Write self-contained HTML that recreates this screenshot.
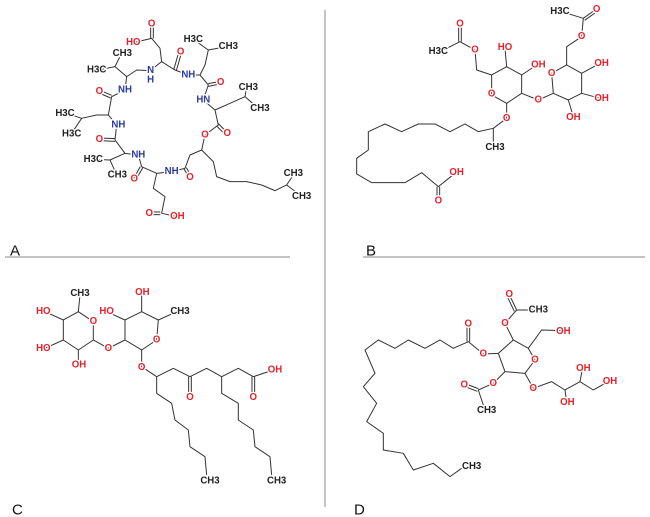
<!DOCTYPE html>
<html><head><meta charset="utf-8"><style>
html,body{margin:0;padding:0;background:#fff;}
svg{display:block}
.b{fill:none;stroke:#333;stroke-width:3;stroke-linejoin:round}
text{font-family:"Liberation Sans",Arial,sans-serif;font-size:29px;font-weight:bold;text-anchor:middle;dominant-baseline:central;paint-order:stroke;stroke:#fff;stroke-width:8px;stroke-linejoin:round}
.r{fill:#e8202a}.n{fill:#2a3aa0}.k{fill:#222}
.lbl{font-size:15px;font-weight:normal;stroke:none;fill:#111;text-anchor:start}
</style></head><body>
<svg width="650" height="517" viewBox="0 0 650 517" xmlns="http://www.w3.org/2000/svg">
<line x1="325" y1="10" x2="325" y2="507" stroke="#888" stroke-width="1"/>
<line x1="5" y1="257" x2="290" y2="257" stroke="#888" stroke-width="1"/>
<line x1="363" y1="257" x2="645" y2="257" stroke="#888" stroke-width="1"/>
<text class="lbl" x="10" y="251" dominant-baseline="auto">A</text>
<text class="lbl" x="366" y="251" dominant-baseline="auto">B</text>
<text class="lbl" x="12" y="510" dominant-baseline="auto">C</text>
<text class="lbl" x="354" y="510" dominant-baseline="auto">D</text>

<!-- Panel A -->
<g transform="scale(0.3333)">
<polyline class="b" points="450,212 485,185 525,210 565,225 600,225 625,255 610,300 645,330 655,375 615,405 605,450 570,465 555,505 515,515 470,520 425,500 415,465 375,460 345,420 350,375 325,345 335,290 375,270 380,230 410,210 450,212"/>
<polyline class="b" points="485,185 480,145 455,115 400,128"/>
<line class="b" x1="452" y1="115" x2="452" y2="75"/><line class="b" x1="460" y1="115" x2="460" y2="75"/>
<line class="b" x1="521" y1="210" x2="536" y2="158"/><line class="b" x1="529" y1="212" x2="544" y2="160"/>
<polyline class="b" points="600,225 615,195 625,150 580,118"/><line class="b" x1="625" y1="150" x2="680" y2="140"/>
<line class="b" x1="625" y1="251" x2="660" y2="244"/><line class="b" x1="625" y1="259" x2="660" y2="252"/>
<polyline class="b" points="645,330 690,310 735,290 740,262"/><line class="b" x1="735" y1="290" x2="775" y2="325"/>
<line class="b" x1="655" y1="371" x2="680" y2="396"/><line class="b" x1="651" y1="379" x2="676" y2="404"/>
<polyline class="b" points="605,450 640,485 650,530 690,545 740,545 785,555 825,572 860,555 880,525"/><line class="b" x1="860" y1="555" x2="900" y2="585"/>
<line class="b" x1="551" y1="505" x2="566" y2="530"/><line class="b" x1="559" y1="503" x2="574" y2="528"/>
<polyline class="b" points="470,520 460,565 495,590 485,640 530,650"/>
<line class="b" x1="481" y1="636" x2="450" y2="636"/><line class="b" x1="481" y1="644" x2="450" y2="644"/>
<line class="b" x1="421" y1="500" x2="401" y2="535"/><line class="b" x1="429" y1="502" x2="409" y2="537"/>
<polyline class="b" points="375,460 330,480 285,478"/><line class="b" x1="330" y1="480" x2="350" y2="525"/>
<line class="b" x1="345" y1="416" x2="300" y2="414"/><line class="b" x1="345" y1="424" x2="300" y2="422"/>
<polyline class="b" points="325,345 290,345 245,355 200,340"/><line class="b" x1="245" y1="355" x2="215" y2="400"/>
<line class="b" x1="335" y1="286" x2="300" y2="271"/><line class="b" x1="332" y1="294" x2="297" y2="279"/>
<polyline class="b" points="380,230 345,200 365,160"/><line class="b" x1="345" y1="200" x2="295" y2="210"/>
<text class="n" x="452" y="212">N</text><text class="n" x="452" y="240">H</text>
<text class="r" x="455" y="72">O</text><text class="r" x="400" y="128">HO</text>
<text class="r" x="542" y="156">O</text><text class="n" x="565" y="225">NH</text>
<text class="k" x="580" y="118">H3C</text>
<text class="k" x="685" y="140">CH3</text>
<text class="r" x="662" y="248">O</text><text class="n" x="610" y="300">HN</text>
<text class="k" x="745" y="262">CH3</text>
<text class="k" x="780" y="325">CH3</text>
<text class="r" x="682" y="400">O</text><text class="r" x="615" y="405">O</text>
<text class="r" x="570" y="532">O</text><text class="n" x="515" y="515">NH</text>
<text class="k" x="880" y="520">CH3</text>
<text class="k" x="905" y="590">CH3</text>
<text class="r" x="448" y="640">O</text><text class="r" x="532" y="650">OH</text>
<text class="r" x="403" y="537">O</text><text class="n" x="415" y="465">NH</text>
<text class="k" x="280" y="478">H3C</text>
<text class="k" x="352" y="525">CH3</text>
<text class="r" x="298" y="418">O</text><text class="n" x="355" y="375">NH</text>
<text class="k" x="195" y="340">H3C</text>
<text class="k" x="215" y="402">H3C</text>
<text class="r" x="298" y="275">O</text><text class="n" x="375" y="270">NH</text>
<text class="k" x="367" y="160">CH3</text>
<text class="k" x="290" y="210">H3C</text>
</g>

<!-- Panel B -->
<g transform="translate(325,0) scale(0.3333)">
<polyline class="b" points="390,520 340,560 290,518 240,548 190,548 140,548 95,522 95,475 130,450 130,395 180,372 230,395 280,372 330,372 375,395 420,372 460,395 505,385 545,355 545,310"/>
<line class="b" x1="505" y1="385" x2="505" y2="440"/>
<line class="b" x1="336" y1="560" x2="336" y2="600"/><line class="b" x1="344" y1="560" x2="344" y2="600"/>
<polyline class="b" points="545,310 500,285 500,225 545,200 590,225 590,280 545,310"/>
<polyline class="b" points="590,280 640,300 685,280 680,220 725,195 770,220 770,280 730,300 685,280"/>
<line class="b" x1="545" y1="200" x2="540" y2="145"/><line class="b" x1="590" y1="225" x2="635" y2="195"/>
<polyline class="b" points="500,225 455,210 450,150 405,125 345,155"/>
<line class="b" x1="401" y1="125" x2="401" y2="75"/><line class="b" x1="409" y1="125" x2="409" y2="75"/>
<line class="b" x1="730" y1="300" x2="745" y2="350"/><line class="b" x1="770" y1="280" x2="825" y2="295"/><line class="b" x1="770" y1="220" x2="825" y2="190"/>
<polyline class="b" points="725,195 725,140 770,110 775,55 710,35"/>
<line class="b" x1="775" y1="55" x2="810" y2="30"/><line class="b" x1="779" y1="61" x2="814" y2="36"/>
<text class="r" x="395" y="518">OH</text><text class="r" x="340" y="603">O</text>
<text class="k" x="510" y="442">CH3</text>
<text class="r" x="545" y="355">O</text><text class="r" x="500" y="282">O</text>
<text class="r" x="540" y="143">HO</text><text class="r" x="640" y="195">OH</text>
<text class="r" x="640" y="300">O</text><text class="r" x="680" y="220">O</text>
<text class="r" x="745" y="352">OH</text><text class="r" x="830" y="295">OH</text><text class="r" x="830" y="190">OH</text>
<text class="r" x="450" y="150">O</text><text class="r" x="405" y="72">O</text>
<text class="k" x="340" y="155">H3C</text>
<text class="r" x="770" y="110">O</text><text class="r" x="815" y="28">O</text>
<text class="k" x="705" y="35">H3C</text>
</g>

<!-- Panel C -->
<g transform="translate(0,260) scale(0.3333)">
<polyline class="b" points="280,240 280,185 235,155 190,180 190,240 235,270 280,240 325,265 375,240 375,180 425,155 475,180 470,240 425,270 375,240"/>
<line class="b" x1="235" y1="155" x2="240" y2="105"/><line class="b" x1="190" y1="180" x2="135" y2="155"/>
<line class="b" x1="190" y1="240" x2="135" y2="265"/><line class="b" x1="235" y1="270" x2="235" y2="312"/>
<line class="b" x1="375" y1="180" x2="320" y2="155"/><line class="b" x1="425" y1="155" x2="425" y2="100"/>
<line class="b" x1="475" y1="180" x2="530" y2="155"/>
<polyline class="b" points="425,270 425,320 470,350 520,325 570,350 620,325 665,350 715,325 760,350 820,330"/>
<line class="b" x1="566" y1="350" x2="566" y2="410"/><line class="b" x1="574" y1="350" x2="574" y2="410"/>
<line class="b" x1="756" y1="350" x2="756" y2="410"/><line class="b" x1="764" y1="350" x2="764" y2="410"/>
<polyline class="b" points="470,350 470,400 515,430 525,480 565,510 570,560 615,590 620,645"/>
<polyline class="b" points="665,350 665,400 715,430 715,480 760,510 765,560 810,590 815,645"/>
<text class="r" x="280" y="185">O</text><text class="r" x="470" y="240">O</text>
<text class="k" x="240" y="100">CH3</text><text class="r" x="130" y="155">HO</text><text class="r" x="130" y="265">HO</text>
<text class="r" x="237" y="315">OH</text><text class="r" x="320" y="155">HO</text><text class="r" x="427" y="97">OH</text>
<text class="k" x="540" y="155">CH3</text>
<text class="r" x="325" y="265">O</text><text class="r" x="425" y="322">O</text>
<text class="r" x="570" y="412">O</text><text class="r" x="760" y="412">O</text><text class="r" x="825" y="330">OH</text>
<text class="k" x="630" y="663">CH3</text><text class="k" x="830" y="663">CH3</text>
</g>

<!-- Panel D -->
<g transform="translate(325,260) scale(0.3333)">
<polyline class="b" points="520,280 565,240 610,265 630,300 600,340 540,335 520,280"/>
<polyline class="b" points="610,265 650,210 710,212"/>
<polyline class="b" points="600,340 625,385 680,365 720,390 765,365 805,390 850,365"/>
<line class="b" x1="720" y1="390" x2="725" y2="425"/><line class="b" x1="765" y1="365" x2="772" y2="328"/>
<polyline class="b" points="540,335 505,370 460,390 480,450"/>
<line class="b" x1="460" y1="386" x2="420" y2="371"/><line class="b" x1="457" y1="394" x2="417" y2="379"/>
<polyline class="b" points="520,280 475,282 430,245 385,265 345,240 300,265 250,240 210,265 160,240 120,270 150,340 115,380 155,430 125,485 175,520 175,570 235,580 265,630 325,610 375,650 410,625"/>
<line class="b" x1="426" y1="245" x2="426" y2="195"/><line class="b" x1="434" y1="245" x2="434" y2="195"/>
<polyline class="b" points="565,240 540,190 575,150 635,150"/>
<line class="b" x1="575" y1="150" x2="555" y2="108"/><line class="b" x1="568" y1="154" x2="548" y2="112"/>
<text class="r" x="630" y="300">O</text><text class="r" x="715" y="215">OH</text>
<text class="r" x="625" y="385">O</text><text class="r" x="727" y="428">OH</text><text class="r" x="775" y="325">OH</text><text class="r" x="855" y="365">OH</text>
<text class="r" x="505" y="370">O</text><text class="r" x="418" y="375">O</text>
<text class="k" x="485" y="452">CH3</text>
<text class="r" x="475" y="282">O</text><text class="r" x="430" y="192">O</text>
<text class="k" x="440" y="620">CH3</text>
<text class="r" x="540" y="190">O</text><text class="r" x="553" y="104">O</text>
<text class="k" x="640" y="150">CH3</text>
</g>
</svg>
</body></html>
